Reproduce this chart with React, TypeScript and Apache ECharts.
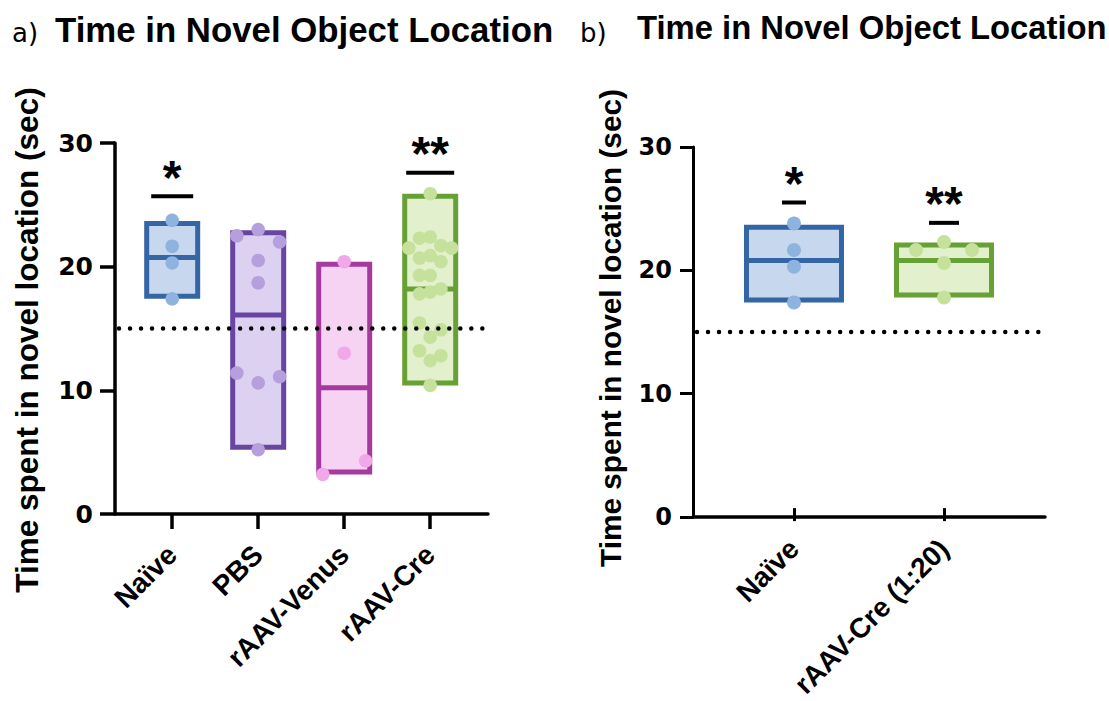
import React, { useEffect, useRef } from "react";
import * as echarts from "echarts";

// ---------- data ----------
const categoriesA = ["Naïve", "PBS", "rAAV-Venus", "rAAV-Cre"];
const categoriesB = ["Naïve", "rAAV-Cre (1:20)"];

const naiveValues = [23.75, 21.65, 20.3, 17.4];
const naiveSlots = [0, 0, 0, 0];
const pbsValues = [22.5, 23.0, 22.0, 20.5, 18.7, 11.4, 10.6, 11.1, 5.2];
const pbsSlots = [-2, 0, 2, 0, 0, -2, 0, 2, 0];
const venusValues = [20.4, 13.0, 4.3, 3.2];
const venusSlots = [0, 0, 2, -2];
const creValues = [25.9, 22.3, 22.4, 21.5, 21.7, 21.5, 20.7, 20.9, 20.4, 19.3, 19.3, 17.8, 17.95, 18.2, 15.45, 14.9, 14.3, 13.2, 12.8, 12.4, 10.4];
const creSlots = [0, -1, 0, -2, 1, 2, -1, 0, 1, -1, 0, -1, 0, 1, -1, 1, 0, -1, 1, 0, 0];

const naiveBValues = [23.8, 21.65, 20.3, 17.4];
const naiveBSlots = [0, 0, 0, 0];
const creBValues = [22.3, 21.65, 21.65, 20.6, 17.8];
const creBSlots = [0, -1, 1, 0, 0];

const boxLowA = [17.6, 5.4, 3.4, 10.6];
const boxHighA = [23.5, 22.75, 20.2, 25.7];
const boxMeanA = [20.75, 16.1, 10.2, 18.2];
const boxLowB = [17.6, 18.0];
const boxHighB = [23.5, 22.05];
const boxMeanB = [20.8, 20.8];

const chanceLevel = 15;

const sigCatsA = [0, 3];
const sigYA = [25.7, 27.6];
const sigLabelsA = ["*", "**"];
const sigCatsB = [0, 1];
const sigYB = [25.5, 23.85];
const sigLabelsB = ["*", "**"];

const yTitle = "Time spent in novel location (sec)";
const chartTitle = "Time in Novel Object Location";

// ---------- styles ----------
const palette = [
  { stroke: "#3465A4", fill: "#C7D8EE", point: "#8FB3DF" }, // Naive
  { stroke: "#6745A1", fill: "#DCD1F0", point: "#B69FDD" }, // PBS
  { stroke: "#A63A9F", fill: "#F6D3F2", point: "#F0A8E8" }, // Venus
  { stroke: "#67A034", fill: "#E2F0CE", point: "#C6E19B" }, // Cre
];
const colorIdxA = [0, 1, 2, 3];
const colorIdxB = [0, 3];
const sigBarWidthA = [42, 48];
const sigBarWidthB = [24, 30];
const FONT = '"Liberation Sans", Arial, sans-serif';
const NUMFONT = '"DejaVu Sans", Verdana, sans-serif';

function boxRender(boxW: number, lw: number, colorIdx: number[]) {
  return (params: any, api: any) => {
    const cat = api.value(0);
    const lo = api.coord([cat, api.value(1)]);
    const hi = api.coord([cat, api.value(2)]);
    const md = api.coord([cat, api.value(3)]);
    const c = palette[colorIdx[cat]];
    return {
      type: "group",
      children: [
        {
          type: "rect",
          shape: { x: lo[0] - boxW / 2, y: hi[1], width: boxW, height: lo[1] - hi[1] },
          style: { fill: c.fill, stroke: c.stroke, lineWidth: lw },
        },
        {
          type: "line",
          shape: { x1: lo[0] - boxW / 2, y1: md[1], x2: lo[0] + boxW / 2, y2: md[1] },
          style: { stroke: c.stroke, lineWidth: lw },
        },
      ],
    };
  };
}

function pointRender(step: number, r: number, colorIdx: number[]) {
  return (params: any, api: any) => {
    const cat = api.value(0);
    const p = api.coord([cat, api.value(1)]);
    const c = palette[colorIdx[cat]];
    return {
      type: "circle",
      shape: { cx: p[0] + api.value(2) * step, cy: p[1], r },
      style: { fill: c.point },
    };
  };
}

function chanceRender(params: any, api: any) {
  const cs = params.coordSys;
  const p = api.coord([0, api.value(0)]);
  return {
    type: "line",
    shape: { x1: cs.x + 4, y1: p[1], x2: cs.x + cs.width - 2, y2: p[1] },
    style: { stroke: "#000", lineWidth: 4.5, lineDash: [0.01, 11], lineCap: "round" },
  };
}

function sigRender(widths: number[], labels: string[]) {
  return (params: any, api: any) => {
    const idx = params.dataIndex;
    const p = api.coord([api.value(0), api.value(1)]);
    const w = widths[idx];
    return {
      type: "group",
      children: [
        {
          type: "line",
          shape: { x1: p[0] - w / 2, y1: p[1], x2: p[0] + w / 2, y2: p[1] },
          style: { stroke: "#000", lineWidth: 4 },
        },
        {
          type: "text",
          x: p[0],
          y: p[1] - 19,
          style: {
            text: labels[idx],
            fill: "#000",
            font: `bold 48px ${FONT}`,
            align: "center",
            verticalAlign: "middle",
          },
        },
      ],
    };
  };
}

function pointsData(cat: number, vals: number[], slots: number[]) {
  return vals.map((v, i) => [cat, v, slots[i]]);
}

export default function App() {
  const ref = useRef<HTMLDivElement>(null);
  useEffect(() => {
    if (!ref.current) return;
    const chart = echarts.init(ref.current, undefined, { renderer: "svg" });

    const valueX = (grid: number, min: number, max: number) => ({
      type: "value",
      gridIndex: grid,
      min,
      max,
      axisLine: { show: true, onZero: false, lineStyle: { color: "#000", width: 3.5 } },
      axisTick: { show: false },
      axisLabel: { show: false },
      splitLine: { show: false },
    });
    const catX = (grid: number, data: string[], tickLen: number, tickW: number) => ({
      type: "category",
      gridIndex: grid,
      data,
      boundaryGap: true,
      axisLine: { show: false },
      axisTick: { show: true, alignWithLabel: true, length: tickLen, lineStyle: { color: "#000", width: tickW } },
      axisLabel: {
        show: true,
        rotate: 45,
        interval: 0,
        margin: 36,
        color: "#000",
        fontSize: 28,
        fontWeight: "bold",
        fontFamily: FONT,
      },
      splitLine: { show: false },
    });
    const valueY = (grid: number, tickLen: number, w: number, fs: number, margin: number) => ({
      type: "value",
      gridIndex: grid,
      min: 0,
      max: 30,
      interval: 10,
      axisLine: { show: true, onZero: false, lineStyle: { color: "#000", width: w } },
      axisTick: { show: true, length: tickLen, lineStyle: { color: "#000", width: w } },
      axisLabel: { show: true, margin, color: "#000", fontSize: fs, fontWeight: "bold", fontFamily: NUMFONT },
      splitLine: { show: false },
    });
    const hiddenY = (grid: number) => ({ type: "value", gridIndex: grid, min: 0, max: 30, show: false });

    const option: any = {
      animation: false,
      backgroundColor: "#fff",
      grid: [
        { left: 115, top: 143, width: 373, height: 371 },
        { left: 129, top: 143, width: 344, height: 371 },
        { left: 693, top: 147, width: 352, height: 370 },
        { left: 719, top: 147, width: 300, height: 370 },
      ],
      xAxis: [
        valueX(0, -0.665, 3.672),
        catX(1, categoriesA, 15, 3.5),
        valueX(2, -0.673, 1.673),
        catX(3, categoriesB, 13, 3),
      ],
      yAxis: [valueY(0, 15, 3.5, 25, 22), hiddenY(1), valueY(2, 13, 3, 24, 21), hiddenY(3)],
      series: [
        {
          type: "custom",
          xAxisIndex: 0,
          yAxisIndex: 0,
          z: 1,
          renderItem: boxRender(51, 5, colorIdxA),
          data: categoriesA.map((_, i) => [i, boxLowA[i], boxHighA[i], boxMeanA[i]]),
        },
        {
          type: "custom",
          xAxisIndex: 0,
          yAxisIndex: 0,
          z: 2,
          renderItem: pointRender(10.7, 6.8, colorIdxA),
          data: [
            ...pointsData(0, naiveValues, naiveSlots),
            ...pointsData(1, pbsValues, pbsSlots),
            ...pointsData(2, venusValues, venusSlots),
            ...pointsData(3, creValues, creSlots),
          ],
        },
        {
          type: "custom",
          xAxisIndex: 0,
          yAxisIndex: 0,
          z: 3,
          renderItem: chanceRender,
          data: [[chanceLevel]],
        },
        {
          type: "custom",
          xAxisIndex: 0,
          yAxisIndex: 0,
          z: 3,
          renderItem: sigRender(sigBarWidthA, sigLabelsA),
          data: sigCatsA.map((c, i) => [c, sigYA[i]]),
        },
        {
          type: "custom",
          xAxisIndex: 2,
          yAxisIndex: 2,
          z: 1,
          renderItem: boxRender(95, 5, colorIdxB),
          data: categoriesB.map((_, i) => [i, boxLowB[i], boxHighB[i], boxMeanB[i]]),
        },
        {
          type: "custom",
          xAxisIndex: 2,
          yAxisIndex: 2,
          z: 2,
          renderItem: pointRender(28, 7, colorIdxB),
          data: [...pointsData(0, naiveBValues, naiveBSlots), ...pointsData(1, creBValues, creBSlots)],
        },
        {
          type: "custom",
          xAxisIndex: 2,
          yAxisIndex: 2,
          z: 3,
          renderItem: chanceRender,
          data: [[chanceLevel]],
        },
        {
          type: "custom",
          xAxisIndex: 2,
          yAxisIndex: 2,
          z: 3,
          renderItem: sigRender(sigBarWidthB, sigLabelsB),
          data: sigCatsB.map((c, i) => [c, sigYB[i]]),
        },
      ],
      graphic: [
        { type: "text", x: 12, y: 33, style: { text: "a)", font: `26px ${NUMFONT}`, fill: "#000", verticalAlign: "middle" } },
        { type: "text", x: 55, y: 29, style: { text: chartTitle, font: `bold 34.8px ${FONT}`, fill: "#000", verticalAlign: "middle" } },
        { type: "text", x: 580, y: 33, style: { text: "b)", font: `26px ${NUMFONT}`, fill: "#000", verticalAlign: "middle" } },
        { type: "text", x: 637, y: 27, style: { text: chartTitle, font: `bold 32.8px ${FONT}`, fill: "#000", verticalAlign: "middle" } },
        {
          type: "text",
          x: 27,
          y: 340,
          rotation: Math.PI / 2,
          style: { text: yTitle, font: `bold 31.5px ${FONT}`, fill: "#000", align: "center", verticalAlign: "middle" },
        },
        {
          type: "text",
          x: 610,
          y: 328,
          rotation: Math.PI / 2,
          style: { text: yTitle, font: `bold 29.8px ${FONT}`, fill: "#000", align: "center", verticalAlign: "middle" },
        },
      ],
    };
    chart.setOption(option);
    return () => chart.dispose();
  }, []);
  return <div ref={ref} style={{ width: 1109, height: 701, position: "absolute", left: 0, top: 0 }} />;
}
